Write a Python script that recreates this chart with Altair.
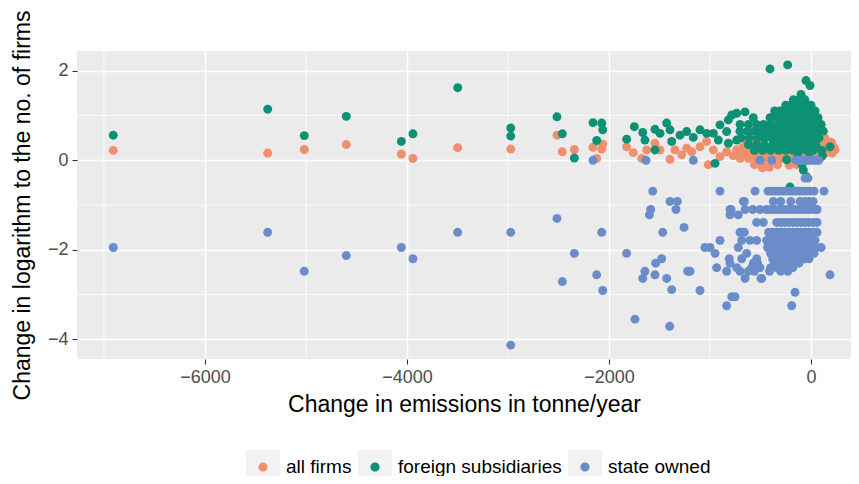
import altair as alt
import pandas as pd

GROUPS = ["all firms", "foreign subsidiaries", "state owned"]
COLORS = ["#F08F6E", "#0D9175", "#6A8DCA"]

X_TICKS = [-6000, -4000, -2000, 0]
X_MINOR = [-7000, -5000, -3000, -1000]
Y_TICKS = [-4, -2, 0, 2]
Y_MINOR = [-3, -1, 1]

# ---- all firms (x, y) ----
ALL_POINTS = [
    (-6908, 0.22), (-5379, 0.16), (-5017, 0.24), (-4601, 0.35), (-4056, 0.14),
    (-3941, 0.04), (-3498, 0.28), (-2973, 0.25), (-2515, 0.56), (-2462, 0.19),
    (-2343, 0.24), (-2158, 0.29), (-2122, 0.04), (-2072, 0.25), (-2062, 0.36),
    (-1825, 0.30), (-1759, 0.17), (-1676, 0.04), (-1627, 0.23), (-1545, 0.38),
    (-1495, 0.23), (-1396, 0.02), (-1347, 0.23), (-1280, 0.12), (-1231, 0.27),
    (-1181, 0.19), (-1099, 0.30), (-1033, 0.42), (-1017, -0.10), (-967, 0.23),
    (-901, 0.08), (-835, 0.19), (-769, 0.10), (-736, 0.23), (-703, 0.13),
    (139, 0.49), (205, 0.38), (238, 0.23), (122, 0.45), (-413, -0.16), (-215, -0.11),
]
ALL_ROWS = [
    (0.40, [-640, -560, -480, 150, 200]),
    (0.28, [-680, -600, -520, -440, -360, -280, -200, -120, -40, 40, 120, 190, 230]),
    (0.16, [-660, -580, -500, -420, -340, -260, -180, -100, -20, 60, 140, 210]),
    (0.04, [-700, -620, -540, -460, -380, -300, -220, -140, -60, 20, 90]),
    (-0.10, [-560, -470, -330, -140]),
    (-0.17, [-480]),
]

# ---- foreign subsidiaries (x, y) ----
FOR_POINTS = [
    (-6908, 0.56), (-5379, 1.14), (-5017, 0.55), (-4601, 0.98), (-4056, 0.42),
    (-3941, 0.59), (-3498, 1.62), (-2973, 0.72), (-2973, 0.54), (-2515, 0.97),
    (-2462, 0.59), (-2343, 0.05), (-2158, 0.84), (-2122, 0.44), (-2072, 0.83),
    (-2062, 0.68),
    (-1825, 0.47), (-1749, 0.75), (-1666, 0.62), (-1644, 0.45), (-1545, 0.69),
    (-1545, 0.23), (-1495, 0.60), (-1429, 0.83), (-1396, 0.68), (-1379, 0.42),
    (-1297, 0.56), (-1231, 0.64), (-1165, 0.51), (-1099, 0.68), (-1033, 0.60),
    (-967, 0.60), (-950, -0.07), (-917, 0.45), (-901, 0.79), (-835, 0.64),
    (-818, 0.90), (-785, 1.01), (-736, 1.05), (-653, 1.08), (-818, 0.38),
    (-736, 0.45),
    (-406, 2.04), (-231, 2.13), (-50, 1.78), (-10, 1.67), (-241, 0.01),
    (-76, -0.22), (-43, -0.37), (-208, -0.60), (-90, -0.10), (188, 0.30),
    (112, 0.10), (-20, 0.05), (-130, 0.08),
]
FOR_ROWS = [
    (1.47, [-99]),
    (1.35, [-175, -120, -60]),
    (1.23, [-250, -200, -140, -80, -43, 0]),
    (1.10, [-360, -307, -250, -190, -130, -70, -10, 40]),
    (0.95, [-571, -406, -340, -280, -220, -160, -100, -40, 20, 70]),
    (0.80, [-703, -620, -540, -470, -400, -330, -270, -210, -150, -90, -30, 30, 100]),
    (0.65, [-703, -630, -560, -490, -420, -360, -300, -240, -180, -120, -60, 0, 60, 122]),
    (0.50, [-690, -610, -530, -460, -390, -330, -270, -210, -150, -90, -30, 30, 80]),
    (0.35, [-620, -540, -460, -380, -310, -250, -190, -130, -70, -10, 50]),
    (0.22, [-560, -480, -400, -320, -250, -180, -110, -40, 20, 106]),
]

# ---- state owned: rows of (y, [x ...]) ----
STATE_ROWS = [
    (0.00, [-2158, -1634, -1165, -505, -389, -150, -125, -100, -75, -50, -25, 0, 25, 50, 75]),
    (-0.40, [-59, -30]),
    (-0.69, [-1567, -901, -554, -426, -390, -355, -320, -285, -250, -215, -180, -145,
             -110, -75, -40, -5, 30, 129]),
    (-0.92, [-1396, -1323, -670, -660, -373, -300, -200, -109, -60, -20, 20]),
    (-1.10, [-1587, -1337, -802, -792, -653, -577, -505, -440, -400, -360, -320, -280,
             -240, -200, -160, -120, -80, -40, 0, 40, 60]),
    (-1.22, [-1600, -802, -720]),
    (-1.30, [-2515]),
    (-1.39, [-538, -472, -340, -300, -260, -220, -180, -140, -100, -60, -20, 20, 60]),
    (-1.50, [-1257]),
    (-1.61, [-5379, -3498, -2973, -2072, -1468, -703, -660, -420, -380, -340, -300,
             -260, -220, -180, -140, -100, -60, -20, 20, 60]),
    (-1.79, [-901, -686, -604, -538, -440, -400, -360, -320, -280, -240, -200, -160,
             -120, -80, -40, 0, 40]),
    (-1.95, [-6908, -4056, -1050, -1000, -720, -430, -390, -350, -310, -270, -230,
             -190, -150, -110, -70, -30, 10, 50, 100]),
    (-2.08, [-2343, -1825, -950, -637, -400, -360, -320, -280, -240, -200, -160,
             -120, -80, -40, 0, 30]),
    (-2.13, [-4601]),
    (-2.20, [-3941, -1478, -809, -686, -538, -380, -340, -300, -260, -220, -180,
             -140, -100, -60, -20]),
    (-2.30, [-1538, -802, -570, -530, -360, -320, -280, -240, -200, -160, -120]),
    (-2.40, [-934, -736, -587, -505, -400, -340, -280, -230, -180]),
    (-2.48, [-5017, -1644, -1221, -1198, -835, -703, -620, -560, -410, -300, -230]),
    (-2.56, [-2122, -1545, 188]),
    (-2.64, [-1666, -1429, -653, -495, -488]),
    (-2.71, [-2462]),
    (-2.89, [-1379]),
    (-2.91, [-2062, -1099]),
    (-2.95, [-158]),
    (-3.05, [-785, -752]),
    (-3.25, [-835, -191]),
    (-3.55, [-1743]),
    (-3.71, [-1399]),
    (-4.13, [-2973]),
]

records = []
for x, y in ALL_POINTS:
    records.append({"x": x, "y": y, "group": GROUPS[0]})
for y, xs in ALL_ROWS:
    for x in xs:
        records.append({"x": x, "y": y, "group": GROUPS[0]})
for x, y in FOR_POINTS:
    records.append({"x": x, "y": y, "group": GROUPS[1]})
for y, xs in FOR_ROWS:
    for x in xs:
        records.append({"x": x, "y": y, "group": GROUPS[1]})
for y, xs in STATE_ROWS:
    for x in xs:
        records.append({"x": x, "y": y, "group": GROUPS[2]})
df = pd.DataFrame(records)
KEYS = ["k:" + g for g in GROUPS]
df["key"] = "k:" + df["group"]

FONT = "Liberation Sans"
LEG_FONT = 19

X_ENC = alt.X(
    "x:Q",
    scale=alt.Scale(domain=[-7267, 396], nice=False, zero=False),
    axis=alt.Axis(values=X_TICKS, format="d", title="Change in emissions in tonne/year",
                  labelPadding=4, titlePadding=7),
)
Y_ENC = alt.Y(
    "y:Q",
    scale=alt.Scale(domain=[-4.44, 2.44], nice=False, zero=False),
    axis=alt.Axis(values=Y_TICKS, format="d", title="Change in logarithm to the no. of firms",
                  labelPadding=4, titlePadding=13),
)

minor_x = alt.Chart(pd.DataFrame({"x": X_MINOR})).mark_rule(
    color="white", strokeWidth=0.75
).encode(x=X_ENC)
minor_y = alt.Chart(pd.DataFrame({"y": Y_MINOR})).mark_rule(
    color="white", strokeWidth=0.75
).encode(y=Y_ENC)

LEG_X = 169
LEG_Y = 399

key_layer = alt.Chart(df).transform_filter("datum.y > 100").mark_square(size=10).encode(
    x=X_ENC, y=Y_ENC,
    fill=alt.Fill(
        "key:N",
        scale=alt.Scale(domain=KEYS, range=["#F2F2F2", "#F2F2F2", "#F2F2F2"]),
        legend=alt.Legend(
            title=None, orient="none", direction="horizontal",
            legendX=LEG_X, legendY=LEG_Y, symbolType="square", symbolSize=1156,
            symbolStrokeWidth=0, symbolOpacity=1, labelOpacity=0,
            labelExpr="slice(datum.label, 2)", labelLimit=400,
            labelFont=FONT, labelFontSize=LEG_FONT, labelOffset=6, columnPadding=6,
            padding=0, zindex=1,
        ),
    ),
)

CIRCLE_PATH = "M-0.27,0A0.27,0.27,0,1,0,0.27,0A0.27,0.27,0,1,0,-0.27,0Z"

points = alt.Chart(df).mark_circle(size=80, opacity=1).encode(
    x=X_ENC, y=Y_ENC,
    color=alt.Color(
        "group:N",
        scale=alt.Scale(domain=GROUPS, range=COLORS),
        legend=alt.Legend(
            title=None, orient="none", direction="horizontal",
            legendX=LEG_X, legendY=LEG_Y, symbolType=CIRCLE_PATH, symbolSize=1156,
            symbolStrokeWidth=0, symbolOpacity=1, labelLimit=400,
            labelFont=FONT, labelFontSize=LEG_FONT, labelColor="#000000",
            labelOffset=6, columnPadding=6, padding=0, zindex=2,
        ),
    ),
)

chart = alt.layer(minor_x, minor_y, key_layer, points).properties(
    width=774, height=308,
    autosize=alt.AutoSizeParams(type="none"),
    padding={"left": 69, "top": 43, "right": 0, "bottom": 117},
).configure_view(
    fill="#EBEBEB", stroke=None
).configure_axis(
    domain=False, grid=True, gridColor="white", gridWidth=1.5,
    tickColor="#333333", tickSize=5, tickWidth=1.1,
    labelColor="#4D4D4D", labelFont=FONT, labelFontSize=18,
    titleFont=FONT, titleFontSize=23, titleFontWeight="normal", titleColor="#000000",
)

chart.save("out.html", embed_options={"renderer": "svg", "actions": False})
